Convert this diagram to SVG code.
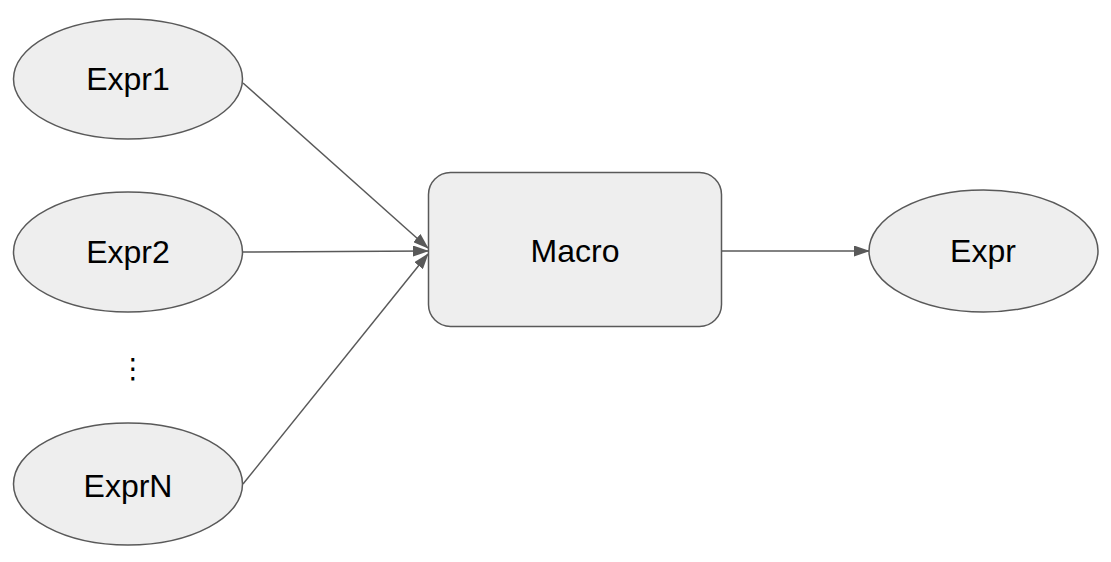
<svg xmlns="http://www.w3.org/2000/svg" width="1111" height="562" viewBox="0 0 1111 562">
<style>
.n{fill:#eeeeee;stroke:#595959;stroke-width:1.5}
.t{font-family:"Liberation Sans",Arial,sans-serif;font-size:32px;fill:#000;text-anchor:middle;dominant-baseline:central}
.c{stroke:#595959;stroke-width:1.5;fill:none;marker-end:url(#a)}
</style>
<defs>
<marker id="a" viewBox="0 0 16 11" refX="15" refY="5.5" markerWidth="16" markerHeight="11" markerUnits="userSpaceOnUse" orient="auto">
<path d="M0,0L16,5.5L0,11z" fill="#595959"/>
</marker>
</defs>
<rect width="1111" height="562" fill="#fff"/>
<g id="connectors">
<line class="c" x1="243" y1="83" x2="428" y2="248"/>
<line class="c" x1="243" y1="252" x2="428" y2="251"/>
<line class="c" x1="243" y1="484" x2="428" y2="254"/>
<line class="c" x1="722" y1="251" x2="869" y2="251"/>
</g>
<g id="expr1"><ellipse class="n" cx="128" cy="79" rx="114.5" ry="60"/><text class="t" x="128" y="79">Expr1</text></g>
<g id="expr2"><ellipse class="n" cx="128" cy="252" rx="114.5" ry="60"/><text class="t" x="128" y="252">Expr2</text></g>
<g id="dots"><text class="t" x="133" y="368" style="font-family:'DejaVu Sans',sans-serif;font-size:28px">⋮</text></g>
<g id="exprN"><ellipse class="n" cx="128" cy="484" rx="114.5" ry="61"/><text class="t" x="128" y="486">ExprN</text></g>
<g id="macro"><rect class="n" x="428.5" y="172.5" width="293" height="154" rx="22"/><text class="t" x="575" y="251">Macro</text></g>
<g id="expr"><ellipse class="n" cx="983.5" cy="251" rx="114.5" ry="61"/><text class="t" x="983" y="251">Expr</text></g>
</svg>
